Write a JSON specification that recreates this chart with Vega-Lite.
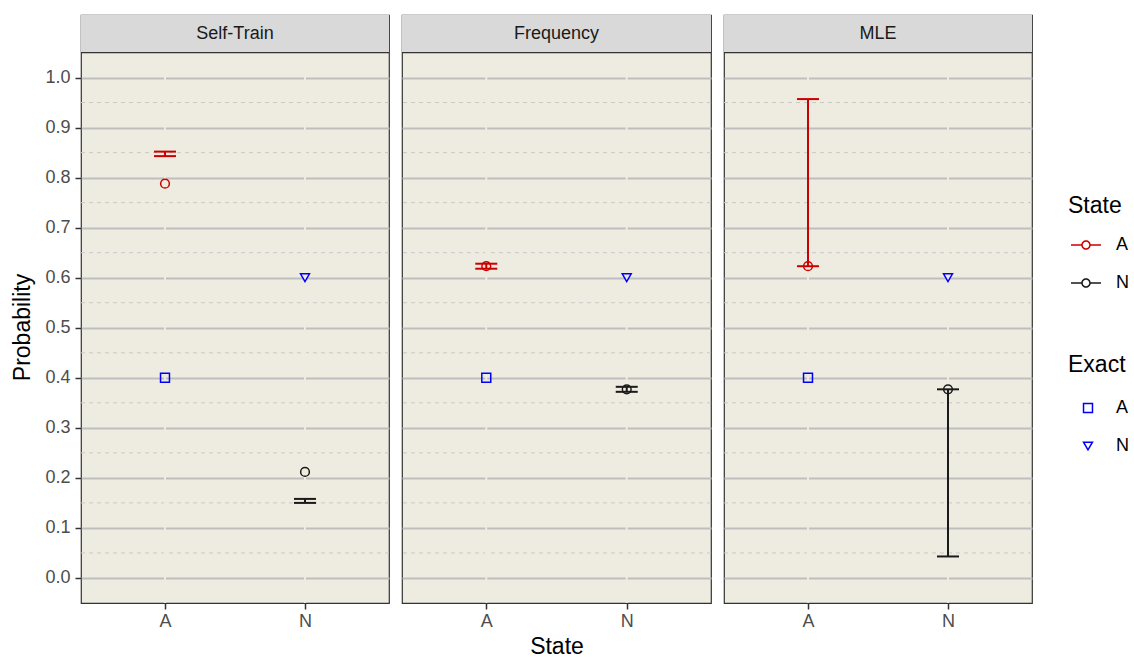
{
  "$schema": "https://vega.github.io/schema/vega-lite/v6.json",
  "background": "white",
  "padding": {"left": 11, "top": 13, "right": 0, "bottom": 0},
  "datasets": {
    "est": [
      {"Method": "Self-Train", "State": "A", "Estimate": 0.788, "Lower": 0.843, "Upper": 0.852},
      {"Method": "Self-Train", "State": "N", "Estimate": 0.212, "Lower": 0.150, "Upper": 0.158},
      {"Method": "Frequency", "State": "A", "Estimate": 0.623, "Lower": 0.618, "Upper": 0.628},
      {"Method": "Frequency", "State": "N", "Estimate": 0.377, "Lower": 0.372, "Upper": 0.382},
      {"Method": "MLE", "State": "A", "Estimate": 0.623, "Lower": 0.623, "Upper": 0.957},
      {"Method": "MLE", "State": "N", "Estimate": 0.377, "Lower": 0.043, "Upper": 0.377}
    ],
    "exact": [
      {"Method": "Self-Train", "Exact": "A", "Value": 0.4},
      {"Method": "Self-Train", "Exact": "N", "Value": 0.6},
      {"Method": "Frequency", "Exact": "A", "Value": 0.4},
      {"Method": "Frequency", "Exact": "N", "Value": 0.6},
      {"Method": "MLE", "Exact": "A", "Value": 0.4},
      {"Method": "MLE", "Exact": "N", "Value": 0.6}
    ],
    "strip": [
      {"Method": "Self-Train"},
      {"Method": "Frequency"},
      {"Method": "MLE"}
    ],
    "minor": [
      {"Minor": 0.05}, {"Minor": 0.15}, {"Minor": 0.25}, {"Minor": 0.35}, {"Minor": 0.45},
      {"Minor": 0.55}, {"Minor": 0.65}, {"Minor": 0.75}, {"Minor": 0.85}, {"Minor": 0.95}
    ]
  },
  "spacing": 9,
  "hconcat": [
    {
      "width": 308, "height": 588,
      "layer": [
        {"data": {"name": "minor"},
         "mark": {"type": "rule", "stroke": "#C8C8C8", "strokeWidth": 1, "strokeDash": [4, 4]},
         "encoding": {"y": {"field": "Minor", "type": "quantitative"}}},
        {"data": {"name": "exact"}, "transform": [{"filter": "datum.Method == 'Self-Train'"}],
         "mark": {"type": "rule", "stroke": "#EEECE1", "strokeWidth": 2},
         "encoding": {"x": {"field": "Exact", "type": "nominal", "scale": {"type": "point", "padding": 0.6, "domain": ["A", "N"]},
           "axis": {"title": null, "grid": false, "domain": false, "labelFontSize": 18, "labelColor": "#4D4D4D", "labelAngle": 0, "tickColor": "#333333", "tickSize": 6, "tickWidth": 1.5, "labelPadding": 3}}}},
        {"data": {"name": "strip"}, "transform": [{"filter": "datum.Method == 'Self-Train'"}],
         "mark": {"type": "rect", "fill": "#D9D9D9"},
         "encoding": {"y": {"datum": 1.05, "type": "quantitative"}, "y2": {"datum": 1.125}}},
        {"data": {"name": "strip"}, "transform": [{"filter": "datum.Method == 'Self-Train'"}],
         "mark": {"type": "rule", "stroke": "#333333", "strokeWidth": 1.2},
         "encoding": {"y": {"datum": 1.05, "type": "quantitative"}}},
        {"data": {"name": "strip"}, "transform": [{"filter": "datum.Method == 'Self-Train'"}],
         "mark": {"type": "text", "fontSize": 18, "color": "#1A1A1A", "baseline": "middle"},
         "encoding": {"y": {"datum": 1.0875, "type": "quantitative"}, "text": {"field": "Method"}}},
        {"data": {"name": "est"}, "transform": [{"filter": "datum.Method == 'Self-Train'"}],
         "layer": [
           {"mark": {"type": "point", "shape": "circle", "filled": false, "size": 76, "strokeWidth": 1.5, "opacity": 1},
            "encoding": {"x": {"field": "State", "type": "nominal"},
              "y": {"field": "Estimate", "type": "quantitative", "scale": {"domain": [-0.05, 1.125], "nice": false, "zero": false},
                "axis": {"title": "Probability", "values": [0, 0.1, 0.2, 0.3, 0.4, 0.5, 0.6, 0.7, 0.8, 0.9, 1.0], "format": ".1f",
                  "grid": true, "gridColor": "#BEBEBE", "gridWidth": 1.8, "domain": false, "tickColor": "#333333", "tickSize": 6, "tickWidth": 1.5,
                  "labelFontSize": 18, "labelColor": "#4D4D4D", "labelPadding": 5,
                  "titleFontSize": 23, "titleFontWeight": "normal", "titleColor": "#000000", "titlePadding": 10, "titleY": 312}},
              "color": {"field": "State", "type": "nominal",
                "legend": {"title": "State", "legendX": 987, "legendY": 180,
                  "symbolType": "M-1,-0.05H-0.28V0.05H-1Z M0.28,-0.05H1V0.05H0.28Z M0.317,0A0.317,0.317,0,1,1,-0.317,0A0.317,0.317,0,1,1,0.317,0Z M0.217,0A0.217,0.217,0,1,0,-0.217,0A0.217,0.217,0,1,0,0.217,0Z",
                  "symbolSize": 900, "symbolStrokeWidth": 0, "symbolOffset": 3, "rowPadding": 14, "titlePadding": 12, "labelOffset": 15,
                  "encode": {"symbols": {"update": {"opacity": {"value": 1}}}}}}}},
           {"mark": {"type": "rule", "strokeWidth": 2},
            "encoding": {"x": {"field": "State", "type": "nominal"},
              "y": {"field": "Lower", "type": "quantitative"},
              "y2": {"field": "Upper"},
              "color": {"field": "State", "type": "nominal"}}},
           {"mark": {"type": "tick", "size": 22, "thickness": 2, "opacity": 1},
            "encoding": {"x": {"field": "State", "type": "nominal"}, "y": {"field": "Lower", "type": "quantitative"}, "color": {"field": "State", "type": "nominal"}}},
           {"mark": {"type": "tick", "size": 22, "thickness": 2, "opacity": 1},
            "encoding": {"x": {"field": "State", "type": "nominal"}, "y": {"field": "Upper", "type": "quantitative"}, "color": {"field": "State", "type": "nominal"}}}
         ]},
        {"data": {"name": "exact"}, "transform": [{"filter": "datum.Method == 'Self-Train'"}],
         "mark": {"type": "point", "filled": false, "size": 80, "strokeWidth": 1.5, "color": "#0000FF", "opacity": 1},
         "encoding": {"x": {"field": "Exact", "type": "nominal"},
           "y": {"field": "Value", "type": "quantitative"},
           "shape": {"field": "Exact", "type": "nominal", "scale": {"domain": ["A", "N"], "range": ["square", "triangle-down"]},
             "legend": {"title": "Exact", "legendX": 987, "legendY": 339, "symbolStrokeColor": "#0000FF", "symbolFillColor": "transparent", "symbolSize": 80, "symbolStrokeWidth": 1.5, "rowPadding": 20, "titlePadding": 22, "symbolOffset": 11, "labelOffset": 19,
               "encode": {"symbols": {"update": {"opacity": {"value": 1}}}}}}}}
      ]
    },
    {
      "width": 309, "height": 588,
      "layer": [
        {"data": {"name": "minor"},
         "mark": {"type": "rule", "stroke": "#C8C8C8", "strokeWidth": 1, "strokeDash": [4, 4]},
         "encoding": {"y": {"field": "Minor", "type": "quantitative"}}},
        {"data": {"name": "exact"}, "transform": [{"filter": "datum.Method == 'Frequency'"}],
         "mark": {"type": "rule", "stroke": "#EEECE1", "strokeWidth": 2},
         "encoding": {"x": {"field": "Exact", "type": "nominal", "scale": {"type": "point", "padding": 0.6, "domain": ["A", "N"]},
           "axis": {"title": "State", "grid": false, "domain": false, "labelFontSize": 18, "labelColor": "#4D4D4D", "labelAngle": 0, "tickColor": "#333333", "tickSize": 6, "tickWidth": 1.5, "labelPadding": 3,
             "titleFontSize": 23, "titleFontWeight": "normal", "titleColor": "#000000", "titlePadding": 5}}}},
        {"data": {"name": "strip"}, "transform": [{"filter": "datum.Method == 'Frequency'"}],
         "mark": {"type": "rect", "fill": "#D9D9D9"},
         "encoding": {"y": {"datum": 1.05, "type": "quantitative"}, "y2": {"datum": 1.125}}},
        {"data": {"name": "strip"}, "transform": [{"filter": "datum.Method == 'Frequency'"}],
         "mark": {"type": "rule", "stroke": "#333333", "strokeWidth": 1.2},
         "encoding": {"y": {"datum": 1.05, "type": "quantitative"}}},
        {"data": {"name": "strip"}, "transform": [{"filter": "datum.Method == 'Frequency'"}],
         "mark": {"type": "text", "fontSize": 18, "color": "#1A1A1A", "baseline": "middle"},
         "encoding": {"y": {"datum": 1.0875, "type": "quantitative"}, "text": {"field": "Method"}}},
        {"data": {"name": "est"}, "transform": [{"filter": "datum.Method == 'Frequency'"}],
         "layer": [
           {"mark": {"type": "point", "shape": "circle", "filled": false, "size": 76, "strokeWidth": 1.5, "opacity": 1},
            "encoding": {"x": {"field": "State", "type": "nominal"},
              "y": {"field": "Estimate", "type": "quantitative", "scale": {"domain": [-0.05, 1.125], "nice": false, "zero": false},
                "axis": {"title": null, "values": [0, 0.1, 0.2, 0.3, 0.4, 0.5, 0.6, 0.7, 0.8, 0.9, 1.0],
                  "labels": false, "ticks": false, "domain": false, "grid": true, "gridColor": "#BEBEBE", "gridWidth": 1.8}},
              "color": {"field": "State", "type": "nominal"}}},
           {"mark": {"type": "rule", "strokeWidth": 2},
            "encoding": {"x": {"field": "State", "type": "nominal"},
              "y": {"field": "Lower", "type": "quantitative"},
              "y2": {"field": "Upper"},
              "color": {"field": "State", "type": "nominal"}}},
           {"mark": {"type": "tick", "size": 22, "thickness": 2, "opacity": 1},
            "encoding": {"x": {"field": "State", "type": "nominal"}, "y": {"field": "Lower", "type": "quantitative"}, "color": {"field": "State", "type": "nominal"}}},
           {"mark": {"type": "tick", "size": 22, "thickness": 2, "opacity": 1},
            "encoding": {"x": {"field": "State", "type": "nominal"}, "y": {"field": "Upper", "type": "quantitative"}, "color": {"field": "State", "type": "nominal"}}}
         ]},
        {"data": {"name": "exact"}, "transform": [{"filter": "datum.Method == 'Frequency'"}],
         "mark": {"type": "point", "filled": false, "size": 80, "strokeWidth": 1.5, "color": "#0000FF", "opacity": 1},
         "encoding": {"x": {"field": "Exact", "type": "nominal"},
           "y": {"field": "Value", "type": "quantitative"},
           "shape": {"field": "Exact", "type": "nominal"}}}
      ]
    },
    {
      "width": 308, "height": 588,
      "layer": [
        {"data": {"name": "minor"},
         "mark": {"type": "rule", "stroke": "#C8C8C8", "strokeWidth": 1, "strokeDash": [4, 4]},
         "encoding": {"y": {"field": "Minor", "type": "quantitative"}}},
        {"data": {"name": "exact"}, "transform": [{"filter": "datum.Method == 'MLE'"}],
         "mark": {"type": "rule", "stroke": "#EEECE1", "strokeWidth": 2},
         "encoding": {"x": {"field": "Exact", "type": "nominal", "scale": {"type": "point", "padding": 0.6, "domain": ["A", "N"]},
           "axis": {"title": null, "grid": false, "domain": false, "labelFontSize": 18, "labelColor": "#4D4D4D", "labelAngle": 0, "tickColor": "#333333", "tickSize": 6, "tickWidth": 1.5, "labelPadding": 3}}}},
        {"data": {"name": "strip"}, "transform": [{"filter": "datum.Method == 'MLE'"}],
         "mark": {"type": "rect", "fill": "#D9D9D9"},
         "encoding": {"y": {"datum": 1.05, "type": "quantitative"}, "y2": {"datum": 1.125}}},
        {"data": {"name": "strip"}, "transform": [{"filter": "datum.Method == 'MLE'"}],
         "mark": {"type": "rule", "stroke": "#333333", "strokeWidth": 1.2},
         "encoding": {"y": {"datum": 1.05, "type": "quantitative"}}},
        {"data": {"name": "strip"}, "transform": [{"filter": "datum.Method == 'MLE'"}],
         "mark": {"type": "text", "fontSize": 18, "color": "#1A1A1A", "baseline": "middle"},
         "encoding": {"y": {"datum": 1.0875, "type": "quantitative"}, "text": {"field": "Method"}}},
        {"data": {"name": "est"}, "transform": [{"filter": "datum.Method == 'MLE'"}],
         "layer": [
           {"mark": {"type": "point", "shape": "circle", "filled": false, "size": 76, "strokeWidth": 1.5, "opacity": 1},
            "encoding": {"x": {"field": "State", "type": "nominal"},
              "y": {"field": "Estimate", "type": "quantitative", "scale": {"domain": [-0.05, 1.125], "nice": false, "zero": false},
                "axis": {"title": null, "values": [0, 0.1, 0.2, 0.3, 0.4, 0.5, 0.6, 0.7, 0.8, 0.9, 1.0],
                  "labels": false, "ticks": false, "domain": false, "grid": true, "gridColor": "#BEBEBE", "gridWidth": 1.8}},
              "color": {"field": "State", "type": "nominal"}}},
           {"mark": {"type": "rule", "strokeWidth": 2},
            "encoding": {"x": {"field": "State", "type": "nominal"},
              "y": {"field": "Lower", "type": "quantitative"},
              "y2": {"field": "Upper"},
              "color": {"field": "State", "type": "nominal"}}},
           {"mark": {"type": "tick", "size": 22, "thickness": 2, "opacity": 1},
            "encoding": {"x": {"field": "State", "type": "nominal"}, "y": {"field": "Lower", "type": "quantitative"}, "color": {"field": "State", "type": "nominal"}}},
           {"mark": {"type": "tick", "size": 22, "thickness": 2, "opacity": 1},
            "encoding": {"x": {"field": "State", "type": "nominal"}, "y": {"field": "Upper", "type": "quantitative"}, "color": {"field": "State", "type": "nominal"}}}
         ]},
        {"data": {"name": "exact"}, "transform": [{"filter": "datum.Method == 'MLE'"}],
         "mark": {"type": "point", "filled": false, "size": 80, "strokeWidth": 1.5, "color": "#0000FF", "opacity": 1},
         "encoding": {"x": {"field": "Exact", "type": "nominal"},
           "y": {"field": "Value", "type": "quantitative"},
           "shape": {"field": "Exact", "type": "nominal"}}}
      ]
    }
  ],
  "resolve": {"scale": {"color": "shared", "shape": "shared"}},
  "config": {
    "font": "Liberation Sans",
    "view": {"fill": "#EEECE1", "stroke": "#333333", "strokeWidth": 1.2},
    "range": {"category": ["#CD0000", "#1A1A1A"]},
    "axis": {"minExtent": 0},
    "legend": {
      "orient": "none",
      "titleFontSize": 23, "titleFontWeight": "normal", "titleColor": "#000000",
      "labelFontSize": 18, "labelColor": "#000000", "labelFontWeight": "normal"
    }
  }
}
